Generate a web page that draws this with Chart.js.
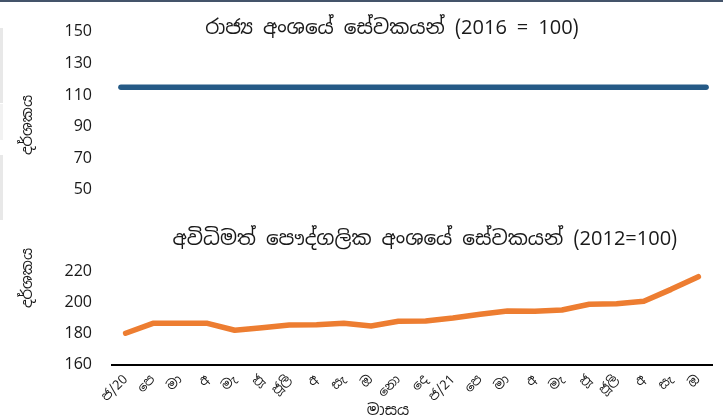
<!DOCTYPE html>
<html><head><meta charset="utf-8">
<script src="https://cdn.jsdelivr.net/npm/chart.js@4/dist/chart.umd.min.js"></script>
<style>
html,body{margin:0;padding:0;background:#fff;}
#wrap{position:relative;width:723px;height:418px;overflow:hidden;}
#topline{position:absolute;left:0;top:0;width:723px;height:2px;background:#44546A;}
.gs{position:absolute;left:0;width:3px;background:#E8E8E8;}
#c1{position:absolute;left:0;top:0;}
#c2{position:absolute;left:0;top:220px;}
</style></head>
<body><div id="wrap">
<canvas id="c1" width="723" height="220"></canvas>
<canvas id="c2" width="723" height="198"></canvas>
<div id="topline"></div>
<div class="gs" style="top:28px;height:75px"></div>
<div class="gs" style="top:104px;height:36px;background:#F2F2F2"></div>
<div class="gs" style="top:155px;height:65px"></div>
</div>
<script>
const months = ['ජ/20','පෙ','මා','අ','මැ','ජූ','ජූලි','අ','සැ','ඔ','නො','දෙ','ජ/21','පෙ','මා','අ','මැ','ජූ','ජූලි','අ','සැ','ඔ'];
const publicSector = [115,115,115,115,115,115,115,115,115,115,115,115,115,115,115,115,115,115,115,115,115,115];
const informalPrivate = [180.5,186.9,186.9,186.9,182.4,184.1,185.8,186.0,186.9,185.2,188.2,188.4,190.3,192.7,194.8,194.7,195.5,199.2,199.5,201.1,208.8,217.0];
const topTicks = [50,70,90,110,130,150];
const bottomTicks = [160,180,200,220];
const topTitle = 'රාජ්‍ය අංශයේ සේවකයන් (2016 = 100)';
const bottomTitle = 'අවිධිමත් පෞද්ගලික අංශයේ සේවකයන් (2012=100)';
const yTitle = 'දර්ශකය';
const xTitle = 'මාසය';

const FONT = "'Noto Sans Sinhala','Nirmala UI','Iskoola Pota','Noto Sans',sans-serif";
const TXT = '#1a1a1a';

const textPlugin = {
  id: 'freeText',
  afterDraw(chart, args, opts) {
    const ctx = chart.ctx;
    (opts.items || []).forEach(it => {
      ctx.save();
      ctx.font = it.font;
      ctx.fillStyle = it.color || TXT;
      ctx.textAlign = 'center';
      ctx.textBaseline = 'middle';
      ctx.translate(it.x, it.y);
      if (it.rot) ctx.rotate(it.rot);
      ctx.fillText(it.text, 0, 0);
      ctx.restore();
    });
  }
};

function fixedTicks(list) {
  return function(scale) { scale.ticks = list.map(v => ({value: v})); };
}

new Chart(document.getElementById('c1'), {
  type: 'line',
  data: { labels: months, datasets: [{ data: publicSector, borderColor: '#255A86', borderWidth: 5.5, pointRadius: 0, borderCapStyle: 'round', tension: 0 }] },
  options: {
    responsive: false, animation: false,
    layout: { padding: { left: 0, right: 3, top: 32, bottom: 30 } },
    plugins: {
      legend: { display: false }, tooltip: { enabled: false }, title: { display: false },
      freeText: { items: [
        { text: topTitle, x: 392, y: 28, font: "20px " + FONT },
        { text: yTitle, x: 28, y: 125, font: "15px " + FONT, rot: -Math.PI/2 }
      ] }
    },
    scales: {
      x: { display: false, offset: true },
      y: {
        min: 50, max: 150,
        afterFit(s) { s.width = 107; },
        afterBuildTicks: fixedTicks(topTicks),
        border: { display: false },
        grid: { display: false, drawTicks: false },
        ticks: { padding: 15, color: TXT, font: { size: 16, family: FONT } }
      }
    }
  },
  plugins: [textPlugin]
});

new Chart(document.getElementById('c2'), {
  type: 'line',
  data: { labels: months, datasets: [{ data: informalPrivate, borderColor: '#ED7D31', borderWidth: 5.5, pointRadius: 0, borderCapStyle: 'round', borderJoinStyle: 'round', tension: 0 }] },
  options: {
    responsive: false, animation: false,
    layout: { padding: { left: 0, right: 11, top: 52, bottom: 0 } },
    plugins: {
      legend: { display: false }, tooltip: { enabled: false }, title: { display: false },
      freeText: { items: [
        { text: bottomTitle, x: 425, y: 19, font: "20px " + FONT },
        { text: yTitle, x: 28, y: 58, font: "15px " + FONT, rot: -Math.PI/2 },
        { text: xTitle, x: 388, y: 191, font: "15px " + FONT }
      ] }
    },
    scales: {
      x: {
        offset: true,
        afterFit(s) { s.height = 53; },
        border: { display: true, color: '#000', width: 2 },
        grid: { display: false, drawTicks: false },
        ticks: { autoSkip: false, minRotation: 45, maxRotation: 45, padding: 7, color: TXT, font: { size: 13, family: FONT } }
      },
      y: {
        min: 160, max: 220,
        afterFit(s) { s.width = 112; },
        afterBuildTicks: fixedTicks(bottomTicks),
        border: { display: false },
        grid: { display: false, drawTicks: false },
        ticks: { padding: 20, color: TXT, font: { size: 16, family: FONT } }
      }
    }
  },
  plugins: [textPlugin]
});
</script>
</body></html>
